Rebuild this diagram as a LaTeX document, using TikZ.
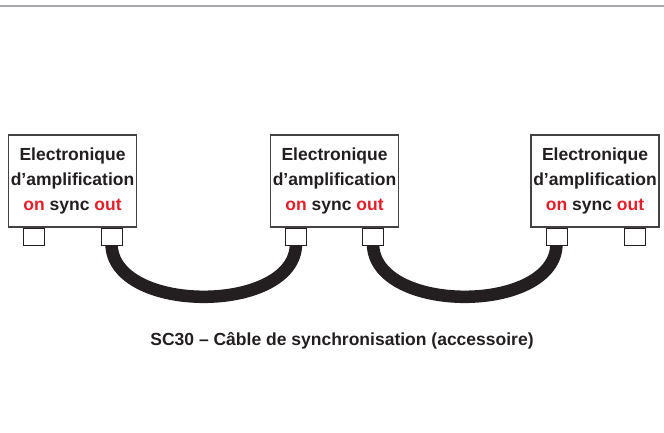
\documentclass[tikz,border=0pt]{standalone}
\usepackage{fontspec}
\setmainfont{Liberation Sans}
\definecolor{ink}{HTML}{231F20}
\definecolor{sigred}{HTML}{E3202A}
\definecolor{rulegray}{HTML}{A8A8AE}
\begin{document}
\begin{tikzpicture}[x=1pt,y=-1pt,
  unit/.style={draw=ink!85,line width=1.1pt,fill=white,minimum width=128pt,
    minimum height=92pt,inner sep=0pt,align=center,text=ink,
    font=\fontsize{17.5}{25}\selectfont\bfseries},
  plug/.style={draw=ink,line width=0.9pt,fill=white,minimum width=21pt,
    minimum height=17pt,inner sep=0pt,anchor=north},
  cable/.style={draw=ink,line width=12.5pt},
  caption/.style={text=ink,font=\fontsize{17.5}{20}\selectfont\bfseries,anchor=base}]
\useasboundingbox (0,0) rectangle (664,432);
% thin rule along the top edge
\coordinate (ruleL) at (0,6);
\coordinate (ruleR) at (664,6);
\draw[rulegray,line width=2pt] (ruleL) -- (ruleR);

% the three amplifier units
\newcommand{\unittext}{Electronique\\d’amplification\\\textcolor{sigred}{on} sync \textcolor{sigred}{out}}
\node[unit] (u1) at (72.5,181) {\unittext};
\node[unit] (u2) at (334.5,181) {\unittext};
\node[unit] (u3) at (595,181) {\unittext};

% sync connectors under each unit
\coordinate (p1l) at ([xshift=-39pt]u1.south);
\coordinate (p1r) at ([xshift=39pt]u1.south);
\coordinate (p2l) at ([xshift=-38.5pt]u2.south);
\coordinate (p2r) at ([xshift=38.5pt]u2.south);
\coordinate (p3l) at ([xshift=-38.5pt]u3.south);
\coordinate (p3r) at ([xshift=39.5pt]u3.south);

% cables (drawn first so the plugs sit on top)
\draw[cable] ([yshift=-16pt]p1r) .. controls +(0,71) and +(0,71) .. ([yshift=-16pt]p2l);
\draw[cable] ([yshift=-16pt]p2r) .. controls +(0,71) and +(0,71) .. ([yshift=-16pt]p3l);

\node[plug] (c1l) at (p1l) {};
\node[plug] (c1r) at (p1r) {};
\node[plug] (c2l) at (p2l) {};
\node[plug] (c2r) at (p2r) {};
\node[plug] (c3l) at (p3l) {};
\node[plug] (c3r) at (p3r) {};

% caption
\node[caption] (cap) at (342,345) {SC30 – Câble de synchronisation (accessoire)};
\end{tikzpicture}
\end{document}
